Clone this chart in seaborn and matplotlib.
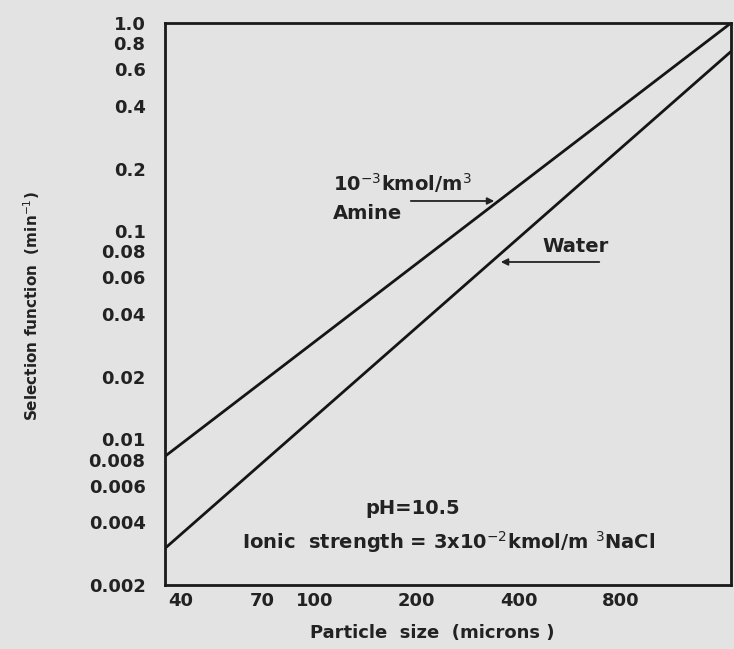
import matplotlib
matplotlib.use("Agg")
import pandas as pd
import seaborn as sns
import matplotlib.pyplot as plt
from matplotlib.ticker import FixedLocator, FixedFormatter, NullLocator

# data (log-log straight lines)
particle_size = [36, 1700]
amine = [0.0083, 1.0]
water = [0.0030, 0.73]

x_ticks = [40, 70, 100, 200, 400, 800]
x_labels = ["40", "70", "100", "200", "400", "800"]
y_ticks = [0.002, 0.004, 0.006, 0.008, 0.01, 0.02, 0.04, 0.06, 0.08, 0.1, 0.2, 0.4, 0.6, 0.8, 1.0]
y_labels = ["0.002", "0.004", "0.006", "0.008", "0.01", "0.02", "0.04", "0.06", "0.08",
            "0.1", "0.2", "0.4", "0.6", "0.8", "1.0"]

df = pd.DataFrame({
    "size": particle_size * 2,
    "S": amine + water,
    "medium": ["Amine"] * 2 + ["Water"] * 2,
})

bg = "#e3e3e3"
ink = "#222222"
sns.set_style("white")
plt.rcParams["font.family"] = ["DejaVu Sans"]

fig = plt.figure(figsize=(7.34, 6.49), dpi=100, facecolor=bg)
ax = fig.add_axes([0.2248, 0.0986, 0.7712, 0.866])
ax.set_facecolor(bg)

sns.lineplot(data=df, x="size", y="S", units="medium", estimator=None,
             color="#151515", linewidth=2, ax=ax, legend=False)

ax.set_xscale("log")
ax.set_yscale("log")
ax.set_xlim(36, 1700)
ax.set_ylim(0.002, 1.0)

ax.xaxis.set_major_locator(FixedLocator(x_ticks))
ax.xaxis.set_major_formatter(FixedFormatter(x_labels))
ax.xaxis.set_minor_locator(NullLocator())
ax.yaxis.set_major_locator(FixedLocator(y_ticks))
ax.yaxis.set_major_formatter(FixedFormatter(y_labels))
ax.yaxis.set_minor_locator(NullLocator())

ax.tick_params(axis="y", direction="in", length=14, width=1.5, color=ink,
               labelsize=13, pad=14, labelcolor=ink)
ax.tick_params(axis="x", direction="in", length=5, width=1.5, color=ink,
               labelsize=13, pad=5, labelcolor=ink)
for lab in ax.get_xticklabels() + ax.get_yticklabels():
    lab.set_fontweight("bold")

for s in ax.spines.values():
    s.set_linewidth(2)
    s.set_color("#1a1a1a")

# annotations (axes fraction coordinates)
def fx(px):
    return (px - 165) / (731 - 165)

def fy(py):
    return 1 - (py - 23) / (585 - 23)

ax.set_xlabel("Particle  size  (microns )", fontsize=13, fontweight="bold", color=ink)
ax.xaxis.set_label_coords(fx(432), fy(633), transform=ax.transAxes)
ax.xaxis.label.set_va("center")
ax.set_ylabel("Selection function  (min$^{-1}$)", fontsize=11, fontweight="bold", color=ink)
ax.yaxis.set_label_coords(fx(32), fy(306), transform=ax.transAxes)
ax.yaxis.label.set_va("center")

txt = dict(fontsize=14, fontweight="bold", color=ink, transform=ax.transAxes)
ax.text(fx(333), fy(183), "10$^{-3}$kmol/m$^3$", va="center", ha="left", **txt)
ax.text(fx(333), fy(214), "Amine", va="center", ha="left", **txt)
ax.text(fx(542), fy(247), "Water", va="center", ha="left", **txt)
ax.text(fx(365), fy(508), "pH=10.5", va="center", ha="left", **txt)
ax.text(fx(242), fy(542), "Ionic  strength = 3x10$^{-2}$kmol/m $^{3}$NaCl",
        va="center", ha="left", **txt)

arrow = dict(arrowstyle="-|>", color=ink, lw=1.3, mutation_scale=10)
ax.annotate("", xy=(fx(497), fy(201)), xytext=(fx(408), fy(201)),
            xycoords="axes fraction", textcoords="axes fraction", arrowprops=arrow)
ax.annotate("", xy=(fx(498), fy(262)), xytext=(fx(602), fy(262)),
            xycoords="axes fraction", textcoords="axes fraction", arrowprops=arrow)

fig.savefig("out.png", dpi=100, facecolor=bg)
